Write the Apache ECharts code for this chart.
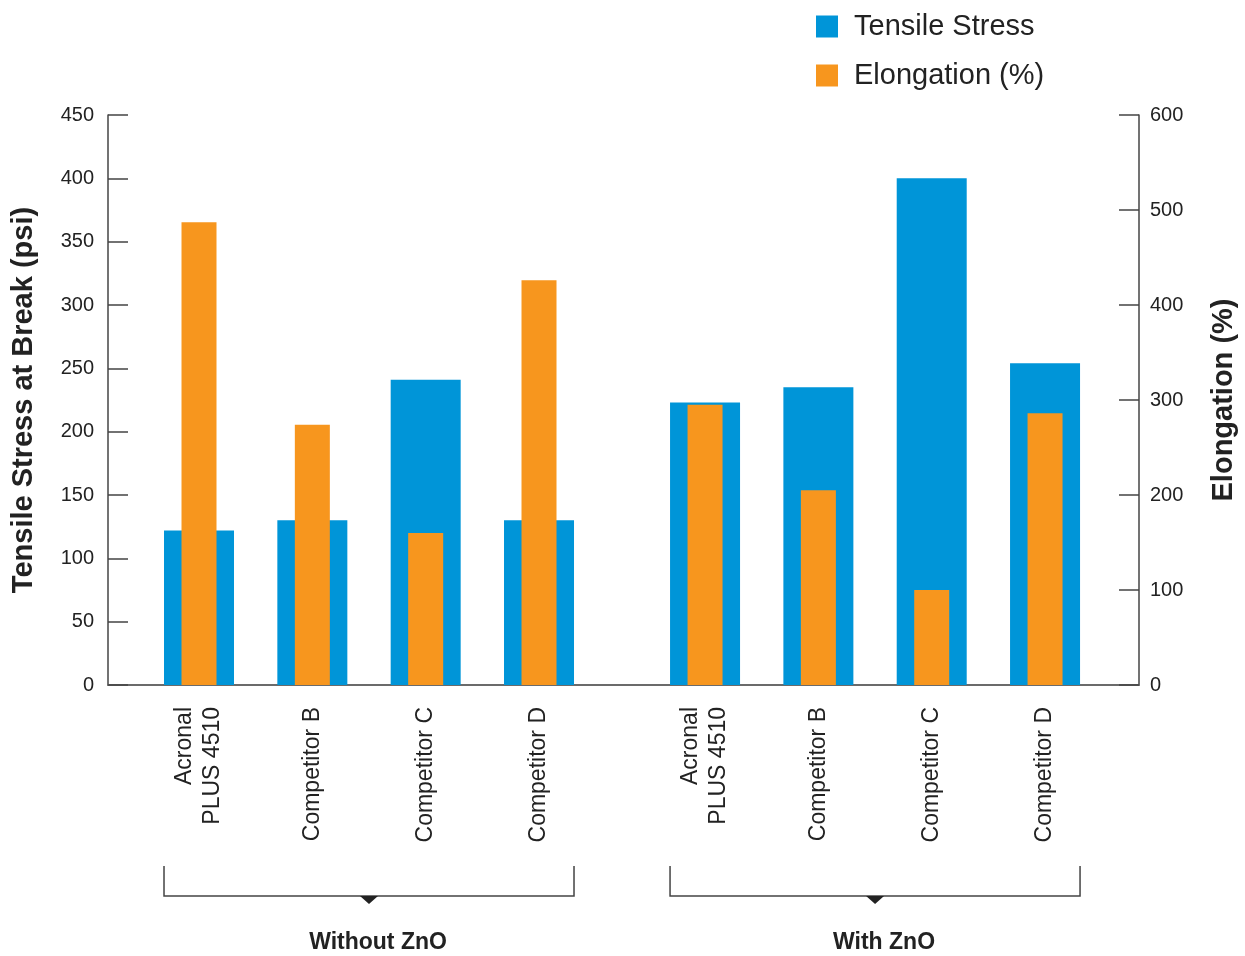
<!DOCTYPE html>
<html>
<head>
<meta charset="utf-8">
<script src="https://cdn.jsdelivr.net/npm/echarts@6/dist/echarts.min.js"></script>
<style>
  html, body { margin: 0; padding: 0; background: #fff; }
  #chart { width: 1245px; height: 956px; }
</style>
</head>
<body>
<div id="chart"></div>
<script>
// Data
const categories = [
    'Acronal\nPLUS 4510', 'Competitor B', 'Competitor C', 'Competitor D',
    'Acronal\nPLUS 4510', 'Competitor B', 'Competitor C', 'Competitor D'
];
const tensileStress = [122, 130, 241, 130, 223, 235, 400, 254];
const elongation = [487, 274, 160, 426, 295, 205, 100, 286];
const groups = [
    { name: 'Without ZnO', from: 0, to: 3 },
    { name: 'With ZnO', from: 4, to: 7 }
];
const leftTicks = { min: 0, max: 450, interval: 50 };
const rightTicks = { min: 0, max: 600, interval: 100 };

// Layout
const FONT = "'Liberation Sans', Arial, Helvetica, sans-serif";
const TEXT = '#222';
const AXIS = '#444';
const BLUE = '#0095d8';
const ORANGE = '#f7961e';
const GROUP_GAP = 1.465; // distance (in bar units) between the two groups
const X_MIN = -0.803;
const X_MAX = 8.294;
const BLUE_W = 70;
const ORANGE_W = 35;

// x position of each bar, gap inserted between the groups
const positions = categories.map((_, i) => (i < 4 ? i : i - 1 + GROUP_GAP));
const labelFor = v => {
    const i = positions.findIndex(p => Math.abs(p - v) < 0.01);
    return i < 0 ? '' : categories[i];
};

const chart = echarts.init(document.getElementById('chart'));

const xBase = {
    type: 'value',
    min: X_MIN,
    max: X_MAX,
    splitLine: { show: false },
    axisTick: { show: false }
};

const yBase = {
    type: 'value',
    nameLocation: 'middle',
    nameRotate: 90,
    nameGap: 70,
    nameTextStyle: { fontSize: 29, fontWeight: 'bold', color: TEXT, fontFamily: FONT },
    splitLine: { show: false },
    axisLine: { show: true, onZero: false, lineStyle: { color: AXIS, width: 1.5 } },
    axisTick: { show: true, inside: true, length: 20, lineStyle: { color: AXIS, width: 1.5 } }
};

const option = {
    animation: false,
    textStyle: { fontFamily: FONT },
    legend: {
        orient: 'vertical',
        left: 811,
        top: 7,
        itemWidth: 22,
        itemHeight: 22,
        itemGap: 20,
        icon: 'rect',
        textStyle: { fontSize: 29, color: TEXT, fontFamily: FONT, padding: [0, 0, 0, 11] },
        data: ['Tensile Stress', 'Elongation (%)']
    },
    grid: { left: 108, right: 106, top: 115, bottom: 271, outerBoundsMode: 'none', containLabel: false },
    xAxis: [
        Object.assign({}, xBase, {
            axisLine: { onZero: false, lineStyle: { color: '#6b6b6b', width: 2 } },
            axisLabel: {
                customValues: positions,
                formatter: labelFor,
                rotate: 90,
                margin: 22,
                fontSize: 23,
                lineHeight: 28,
                color: TEXT,
                fontFamily: FONT
            }
        }),
        Object.assign({}, xBase, { show: false })
    ],
    yAxis: [
        Object.assign({}, yBase, {
            position: 'left',
            min: leftTicks.min,
            max: leftTicks.max,
            interval: leftTicks.interval,
            name: 'Tensile Stress at Break (psi)',
            axisLabel: { fontSize: 20, color: TEXT, margin: 14, fontFamily: FONT }
        }),
        Object.assign({}, yBase, {
            position: 'right',
            min: rightTicks.min,
            max: rightTicks.max,
            interval: rightTicks.interval,
            name: 'Elongation (%)',
            axisLabel: { fontSize: 20, color: TEXT, margin: 11, fontFamily: FONT }
        })
    ],
    series: [
        {
            name: 'Tensile Stress',
            type: 'bar',
            xAxisIndex: 0,
            yAxisIndex: 0,
            barWidth: BLUE_W,
            itemStyle: { color: BLUE },
            data: tensileStress.map((v, i) => [positions[i], v])
        },
        {
            name: 'Elongation (%)',
            type: 'bar',
            xAxisIndex: 1,
            yAxisIndex: 1,
            barWidth: ORANGE_W,
            z: 3,
            itemStyle: { color: ORANGE },
            data: elongation.map((v, i) => [positions[i], v])
        }
    ]
};

chart.setOption(option);

// Group brackets under the category labels
const BRACKET_TOP = 866;
const BRACKET_Y = 896;
const graphics = [];
groups.forEach(g => {
    const x0 = chart.convertToPixel({ xAxisIndex: 0 }, positions[g.from]) - BLUE_W / 2;
    const x1 = chart.convertToPixel({ xAxisIndex: 0 }, positions[g.to]) + BLUE_W / 2;
    const cx = (x0 + x1) / 2;
    graphics.push({
        type: 'polyline',
        shape: { points: [[x0, BRACKET_TOP], [x0, BRACKET_Y], [x1, BRACKET_Y], [x1, BRACKET_TOP]] },
        style: { stroke: AXIS, lineWidth: 1.5, fill: null }
    });
    graphics.push({
        type: 'polygon',
        shape: { points: [[cx - 9, BRACKET_Y], [cx + 9, BRACKET_Y], [cx, BRACKET_Y + 8]] },
        style: { fill: '#222' }
    });
    graphics.push({
        type: 'text',
        x: cx + 9,
        y: 943,
        style: {
            text: g.name,
            fontSize: 23,
            fontWeight: 'bold',
            fontFamily: FONT,
            fill: TEXT,
            align: 'center',
            verticalAlign: 'middle'
        }
    });
});
chart.setOption({ graphic: graphics });
</script>
</body>
</html>
